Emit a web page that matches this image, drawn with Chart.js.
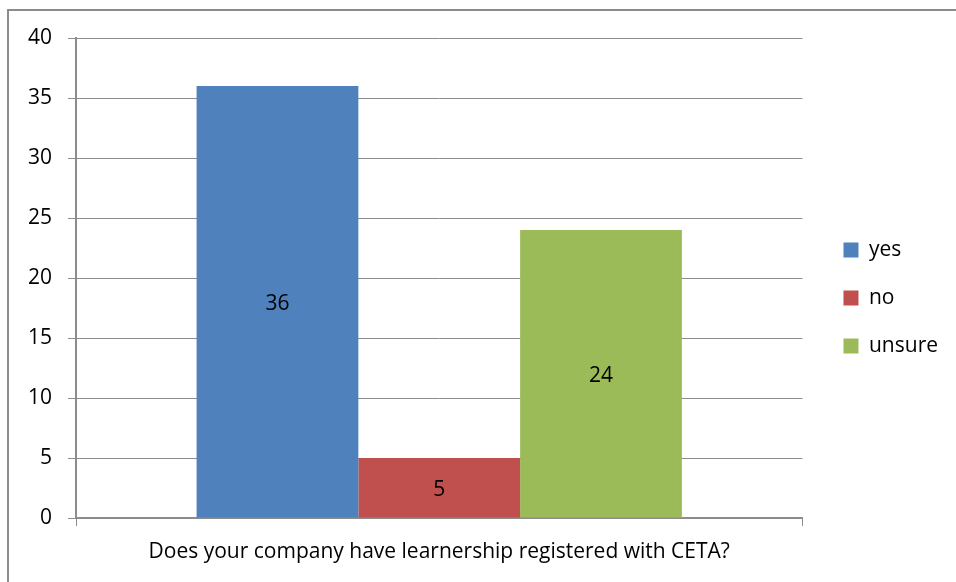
<!DOCTYPE html>
<html>
<head>
<meta charset="utf-8">
<script src="https://cdn.jsdelivr.net/npm/chart.js@4"></script>
<style>
  html, body { margin: 0; padding: 0; background: #fff; }
  #wrap { width: 956px; height: 582px; }
</style>
</head>
<body>
<div id="wrap"><canvas id="chart" width="956" height="582"></canvas></div>
<script>
const categories = ['Does your company have learnership registered with CETA?'];
const seriesNames = ['yes', 'no', 'unsure'];
const yesValues = [36];
const noValues = [5];
const unsureValues = [24];
const yTicks = [0, 5, 10, 15, 20, 25, 30, 35, 40];

const FONT = '"Open Sans", "Noto Sans", sans-serif';
const SIZE = 21;

// outer frame like the office chart border
const framePlugin = {
  id: 'frame',
  beforeDraw(chart) {
    const c = chart.ctx;
    c.save();
    c.fillStyle = '#fff';
    c.fillRect(0, 0, chart.width, chart.height);
    c.strokeStyle = '#8c8c8c';
    c.lineWidth = 2;
    c.strokeRect(8, 10, 1200, 1200);
    c.restore();
  }
};

// nudge the legend block a little right and up
const legendShift = {
  id: 'legendShift',
  afterLayout(chart) {
    const lg = chart.legend;
    lg.left += 14; lg.right += 14;
    lg.top -= 12; lg.bottom -= 12;
  }
};

// value labels in the middle of each bar
const valueLabels = {
  id: 'valueLabels',
  afterDatasetsDraw(chart) {
    const c = chart.ctx;
    c.save();
    c.font = SIZE + 'px ' + FONT;
    c.fillStyle = '#000';
    c.textAlign = 'center';
    c.textBaseline = 'middle';
    chart.data.datasets.forEach((ds, i) => {
      chart.getDatasetMeta(i).data.forEach((bar, j) => {
        const mid = (bar.y + bar.base) / 2;
        c.fillText(ds.data[j], bar.x, mid + 2);
      });
    });
    c.restore();
  }
};

new Chart(document.getElementById('chart'), {
  type: 'bar',
  data: {
    labels: categories,
    datasets: [
      { label: seriesNames[0], data: yesValues, backgroundColor: '#4F81BD' },
      { label: seriesNames[1], data: noValues, backgroundColor: '#C0504D' },
      { label: seriesNames[2], data: unsureValues, backgroundColor: '#9BBB59' }
    ]
  },
  options: {
    responsive: false,
    animation: false,
    layout: { padding: { left: 10, top: 38, right: 22, bottom: 0 } },
    datasets: {
      bar: { categoryPercentage: 0.668, barPercentage: 1.0 }
    },
    plugins: {
      legend: {
        position: 'right',
        labels: {
          boxWidth: 15,
          boxHeight: 15,
          padding: 27,
          color: '#000',
          font: { family: FONT, size: SIZE }
        }
      },
      tooltip: { enabled: false }
    },
    scales: {
      x: {
        grid: { drawOnChartArea: false, color: '#8c8c8c', tickLength: 8, offset: true },
        border: { color: '#8c8c8c', width: 2 },
        ticks: { color: '#000', padding: 13, font: { family: FONT, size: SIZE } },
        afterFit(scale) { scale.height = 64; }
      },
      y: {
        min: 0,
        max: 40,
        afterBuildTicks(scale) { scale.ticks = yTicks.map(v => ({ value: v })); },
        grid: { color: '#8c8c8c', tickLength: 8 },
        border: { color: '#8c8c8c', width: 2 },
        ticks: { color: '#000', padding: 16, font: { family: FONT, size: SIZE } },
        afterFit(scale) { scale.width = 66; }
      }
    }
  },
  plugins: [framePlugin, legendShift, valueLabels]
});
</script>
</body>
</html>
